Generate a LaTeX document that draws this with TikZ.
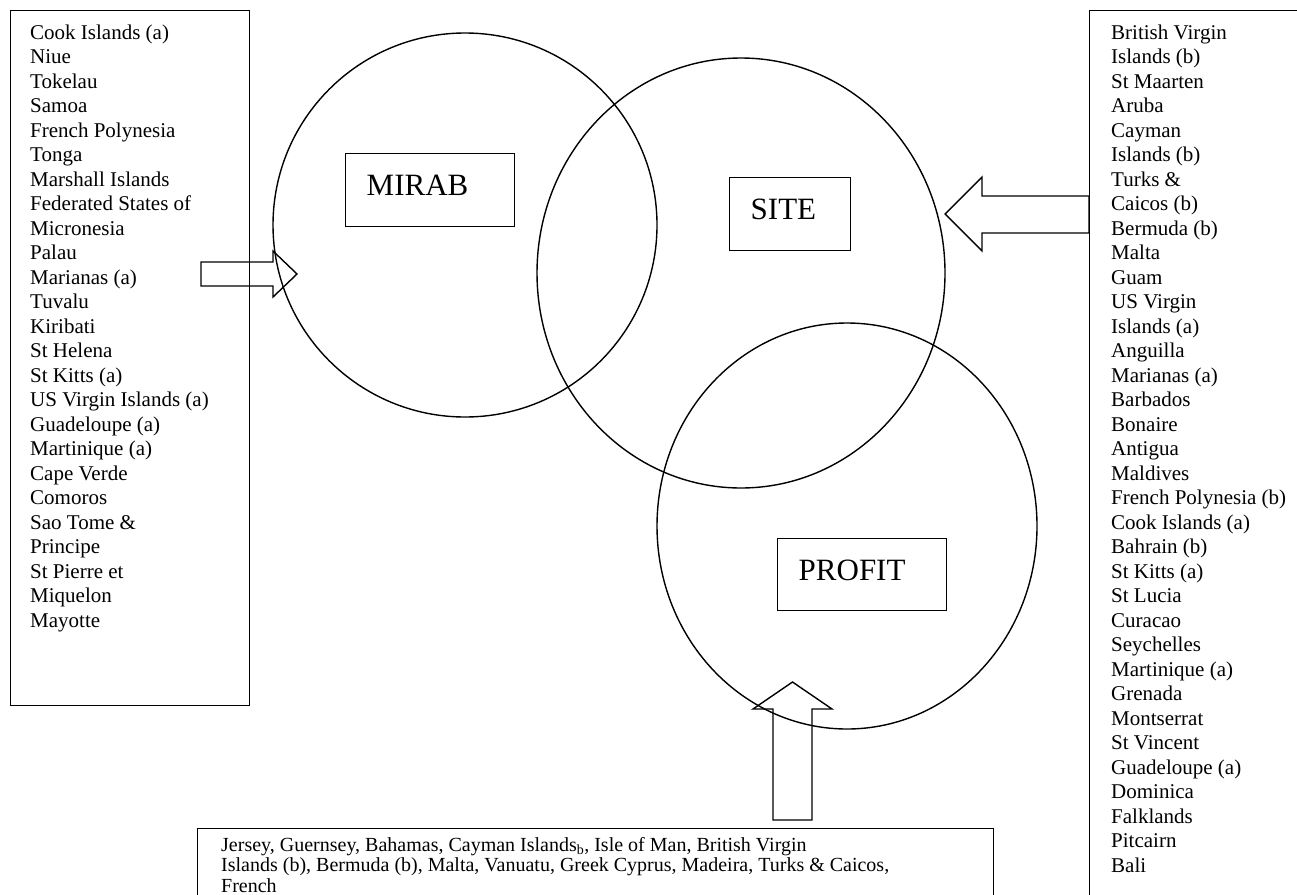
\documentclass[tikz,border=0pt]{standalone}
\usepackage{fontspec}
\setmainfont{Liberation Serif}

\tikzset{
  listbox/.style={draw, line width=1.4pt, anchor=north west, inner sep=0pt},
  listtext/.style={anchor=base west, inner sep=0pt, font=\fontsize{21}{24.5}\selectfont},
  tagbox/.style={draw, line width=1.4pt, anchor=north west, align=left, inner xsep=21pt, inner ysep=0pt,
    minimum height=73pt, text height=21pt, text depth=10pt, font=\fontsize{31}{36}\selectfont},
  venn/.style={line width=1.4pt},
  blockarrow/.style={line width=1.4pt, line join=miter}
}

\begin{document}
\begin{tikzpicture}[x=1pt, y=-1pt]
            \clip (0,0) rectangle (1297,894);
            % the three groups
            \coordinate (mirabC) at (465,225);
            \coordinate (siteC) at (741,273);
            \coordinate (profitC) at (847,526);
            \draw[venn] (mirabC) ellipse [x radius=192, y radius=192];
            \draw[venn] (siteC) ellipse [x radius=204, y radius=215];
            \draw[venn] (profitC) ellipse [x radius=190, y radius=203];
            \node[tagbox, text width=127pt] (mirab) at (345,153) {MIRAB};
            \node[tagbox, text width=79pt] (site) at (729,177) {SITE};
            \node[tagbox, text width=127pt, minimum height=72pt] (profit) at (777,538) {PROFIT};
            % lists
            \node[listbox, minimum width=239pt, minimum height=695pt] (leftbox) at (10,10) {};
            \node[listbox, minimum width=240pt, minimum height=900pt] (rightbox) at (1089,10) {};
            \node[listbox, minimum width=796pt, minimum height=100pt] (bottombox) at (197,828) {};
            \foreach \name [count=\i] in {Cook Islands (a), Niue, Tokelau, Samoa, French Polynesia, Tonga,
                Marshall Islands, Federated States of, Micronesia, Palau, Marianas (a), Tuvalu, Kiribati,
                St Helena, St Kitts (a), US Virgin Islands (a), Guadeloupe (a), Martinique (a), Cape Verde,
                Comoros, Sao Tome \&, Principe, St Pierre et, Miquelon, Mayotte}
            \node[listtext] (left\i) at (30,{39+24.5*(\i-1)}) {\name};
            \foreach \name [count=\i] in {British Virgin, Islands (b), St Maarten, Aruba, Cayman, Islands (b),
                Turks \&, Caicos (b), Bermuda (b), Malta, Guam, US Virgin, Islands (a), Anguilla, Marianas (a),
                Barbados, Bonaire, Antigua, Maldives, French Polynesia (b), Cook Islands (a), Bahrain (b),
                St Kitts (a), St Lucia, Curacao, Seychelles, Martinique (a), Grenada, Montserrat, St Vincent,
                Guadeloupe (a), Dominica, Falklands, Pitcairn, Bali}
            \node[listtext] (right\i) at (1111,{39+24.5*(\i-1)}) {\name};
            \foreach \name [count=\i] in {{Jersey, Guernsey, Bahamas, Cayman Islands\textsubscript{b}, Isle of Man, British Virgin},
                {Islands (b), Bermuda (b), Malta, Vanuatu, Greek Cyprus, Madeira, Turks \& Caicos,},
                {French}}
            \node[listtext, font=\fontsize{20}{20.5}\selectfont] (bottom\i) at (221,{851+20.5*(\i-1)}) {\name};
            % block arrows
            \draw[blockarrow] (201,262) -- (273,262) -- (273,251) -- (297,274) -- (273,297) -- (273,286) -- (201,286) -- cycle;
            \draw[blockarrow] (1089,196) -- (982,196) -- (982,177) -- (945,214) -- (982,251) -- (982,233) -- (1089,233) -- cycle;
            \draw[blockarrow] (773,820) -- (773,709) -- (753,709) -- (792.5,682) -- (832,709) -- (812,709) -- (812,820) -- cycle;
        \end{tikzpicture}
\end{document}
